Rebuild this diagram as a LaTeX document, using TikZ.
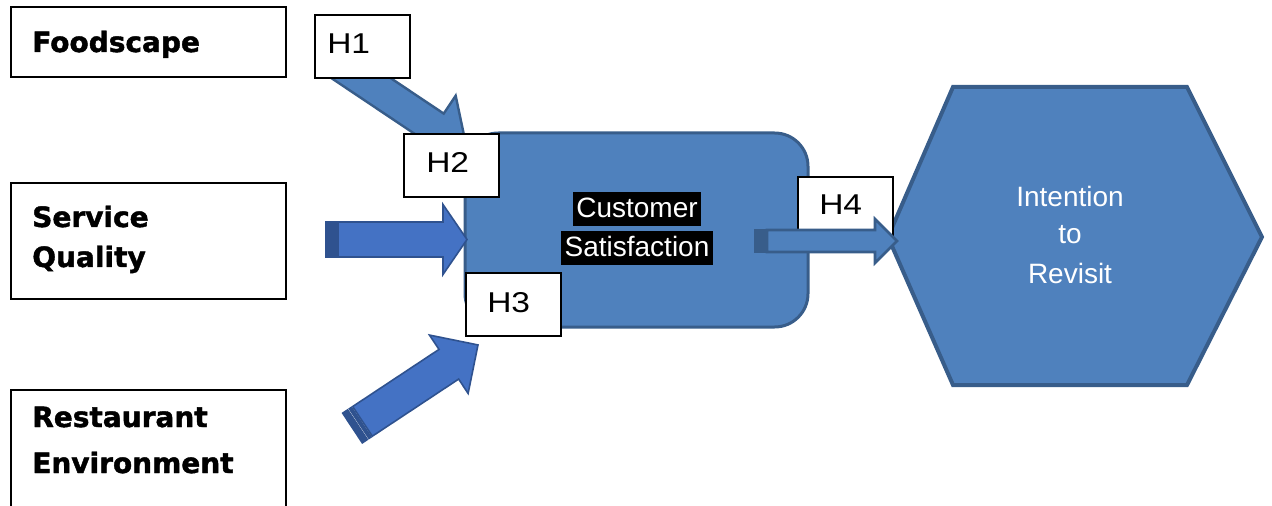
\documentclass[tikz,border=0pt]{standalone}
\usepackage{fontspec}
\setmainfont{Liberation Sans}
\newfontfamily\heavy[FakeBold=1.5]{DejaVu Sans Bold}
\newfontfamily\hfont[FakeStretch=1.17]{Liberation Sans}
\definecolor{panel}{HTML}{4F81BD}
\definecolor{panelline}{HTML}{385D8A}
\definecolor{arrfill}{HTML}{4472C4}
\definecolor{arrline}{HTML}{2F528F}
\newcommand\blockarrow[7]{%
  \begin{scope}[shift={#2},rotate=#3]
    \draw[#1] (0,-#5) -- ({#4-#6},-#5) -- ({#4-#6},-#7) -- (#4,0) -- ({#4-#6},#7) -- ({#4-#6},#5) -- (0,#5) -- cycle;
  \end{scope}}
\newcommand\stripedarrow[8]{% style, tail, angle, L, s, hl, h, stripe colour
  \begin{scope}[shift={#2},rotate=#3]
    \draw[#1] (12,-#5) -- ({#4-#6},-#5) -- ({#4-#6},-#7) -- (#4,0) -- ({#4-#6},#7) -- ({#4-#6},#5) -- (12,#5) -- cycle;
    \draw[#1,fill=#8] (0,-#5) rectangle (6,#5);
    \draw[#1,fill=#8] (8,-#5) rectangle (10.5,#5);
  \end{scope}}
\begin{document}
\begin{tikzpicture}[x=0.75pt,y=-0.75pt,
  lbox/.style={draw=black,fill=white,line width=1.5pt,inner sep=0pt},
  heavytext/.style={font=\heavy\fontsize{21pt}{25pt}\selectfont,anchor=base west,inner sep=0pt},
  hlabel/.style={font=\hfont\fontsize{21.5pt}{25pt}\selectfont,anchor=base west,inner sep=0pt},
  whitetext/.style={font=\fontsize{21pt}{25pt}\selectfont,text=white,anchor=base,inner sep=0pt},
  hilite/.style={whitetext,fill=black,text height=19.5pt,text depth=6pt,inner xsep=2.6pt},
  panelshape/.style={fill=panel,draw=panelline,line width=2.25pt},
  arrowblue/.style={fill=arrfill,draw=arrline,line width=1.2pt,line join=miter},
  arrowpanel/.style={fill=panel,draw=panelline,line width=2.25pt,line join=miter}]
\useasboundingbox (0,0) rectangle (1272,506);

% left boxes
\node[lbox,minimum width=275*0.75pt,minimum height=70*0.75pt] (food) at (148.5,42) {};
\node[heavytext] (foodt) at (32,52) {Foodscape};
\node[lbox,minimum width=275*0.75pt,minimum height=116*0.75pt] (serv) at (148.5,241) {};
\node[heavytext] (servt1) at (32,227) {Service};
\node[heavytext] (servt2) at (32,267) {Quality};
\node[lbox,minimum width=275*0.75pt,minimum height=126*0.75pt] (rest) at (148.5,453) {};
\node[heavytext] (restt1) at (32,427) {Restaurant};
\node[heavytext] (restt2) at (32,473) {Environment};

% H1 arrow and box
\blockarrow{arrowpanel,line width=1.8pt}{(331,58)}{-33.8}{163.6}{16.5}{39}{38}
\node[lbox,minimum width=95*0.75pt,minimum height=63*0.75pt] (h1) at (362,46.5) {};
\node[hlabel] (h1t) at (327,54) {H1};

% customer satisfaction panel
\node[panelshape,rounded corners=25pt,minimum width=343*0.75pt,minimum height=194*0.75pt] (cs) at (636.5,230) {};

% service & environment arrows
\stripedarrow{arrowblue}{(326,239.5)}{0}{141}{17.5}{24}{35}{arrline}
\stripedarrow{arrowblue}{(352.5,428)}{33.5}{150.5}{17.8}{35}{35}{arrline}

% hexagon
\coordinate (x1) at (953,87);
\coordinate (x2) at (1187,87);
\coordinate (x3) at (1262,237);
\coordinate (x4) at (1187,385);
\coordinate (x5) at (953,385);
\coordinate (x6) at (888,237);
\draw[panelshape,line width=3pt,line join=miter] (x1) -- (x2) -- (x3) -- (x4) -- (x5) -- (x6) -- cycle;
\node[whitetext] (it1) at (1070,207) {Intention};
\node[whitetext] (it2) at (1070,244) {to};
\node[whitetext] (it3) at (1070,283) {Revisit};

% H2, H3 boxes
\node[lbox,minimum width=95*0.75pt,minimum height=63*0.75pt] (h2) at (451.5,165.5) {};
\node[hlabel] (h2t) at (426,173) {H2};
\node[lbox,minimum width=95*0.75pt,minimum height=63*0.75pt] (h3) at (513.5,304.5) {};
\node[hlabel] (h3t) at (487,312) {H3};

% customer satisfaction text
\node[hilite] (cs1) at (637,218) {Customer};
\node[hilite] (cs2) at (637,257) {Satisfaction};

% H4 box and arrow
\node[lbox,minimum width=95*0.75pt,minimum height=60*0.75pt] (h4) at (845.5,207) {};
\node[hlabel] (h4t) at (819,215) {H4};
\stripedarrow{arrowpanel,line width=2pt}{(755,241)}{0}{142}{11}{22}{22}{panelline}
\end{tikzpicture}
\end{document}
